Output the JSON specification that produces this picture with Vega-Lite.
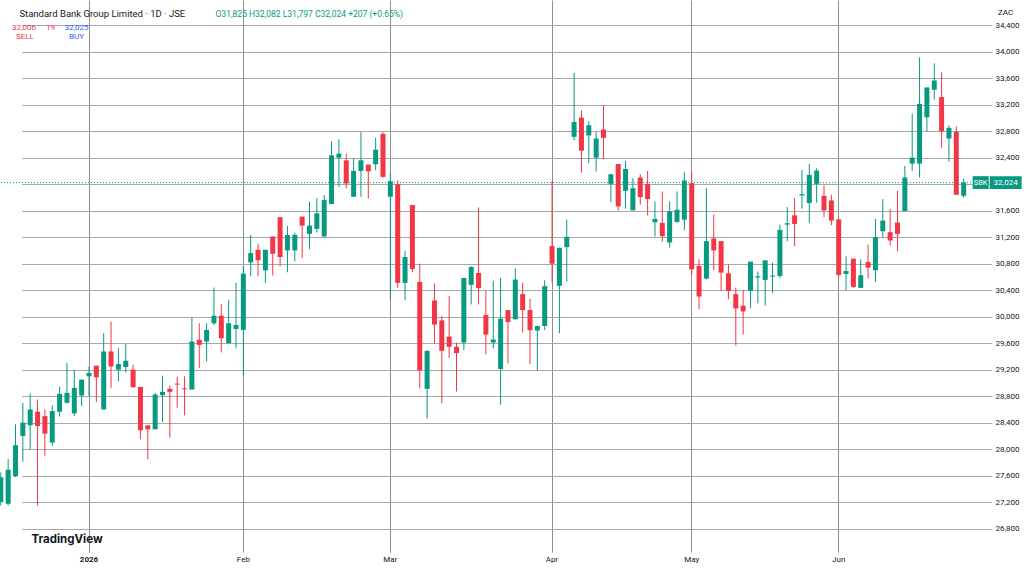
{
  "$schema": "https://vega.github.io/schema/vega-lite/v6.json",
  "width": 989,
  "height": 552,
  "autosize": {"type": "none"},
  "padding": {"left": 0, "top": 0, "right": 35, "bottom": 17},
  "background": "#ffffff",
  "config": {"view": {"stroke": null}, "font": "Roboto"},
  "title": {
    "text": "\u200b\u00a0\u00a0\u00a0\u00a0Standard Bank Group Limited · 1D · JSE",
    "subtitle": ["\u200b\u00a032,006\u00a0\u00a0\u00a0\u00a0\u00a019", "\u200b\u00a0\u00a0\u00a0SELL"],
    "anchor": "start",
    "frame": "group",
    "orient": "top",
    "offset": 0,
    "dx": 10,
    "dy": 41,
    "fontSize": 9.5,
    "fontWeight": "normal",
    "color": "#131722",
    "subtitleFontSize": 8,
    "subtitleColor": "#f23645",
    "subtitlePadding": 6,
    "subtitleLineHeight": 9
  },
  "data": {
    "values": [
      {"d": "2025-12-11", "o": 27200, "h": 27650, "l": 27150, "c": 27575},
      {"d": "2025-12-12", "o": 27175, "h": 27850, "l": 27150, "c": 27690},
      {"d": "2025-12-15", "o": 27590, "h": 28375, "l": 27580, "c": 28060},
      {"d": "2025-12-17", "o": 28200, "h": 28700, "l": 27810, "c": 28400},
      {"d": "2025-12-18", "o": 28360, "h": 28840, "l": 28000, "c": 28600},
      {"d": "2025-12-19", "o": 28565, "h": 28750, "l": 27150, "c": 28350},
      {"d": "2025-12-22", "o": 28500, "h": 28600, "l": 27900, "c": 28235},
      {"d": "2025-12-23", "o": 28100, "h": 28660, "l": 28050, "c": 28575},
      {"d": "2025-12-24", "o": 28565, "h": 28940, "l": 28490, "c": 28835},
      {"d": "2025-12-29", "o": 28700, "h": 29300, "l": 28690, "c": 28850},
      {"d": "2025-12-30", "o": 28540, "h": 29200, "l": 28500, "c": 28925},
      {"d": "2025-12-31", "o": 28810, "h": 29050, "l": 28650, "c": 29050},
      {"d": "2026-01-02", "o": 29100, "h": 29250, "l": 28800, "c": 29150},
      {"d": "2026-01-05", "o": 29260, "h": 29260, "l": 28710, "c": 29085},
      {"d": "2026-01-06", "o": 28600, "h": 29750, "l": 28600, "c": 29475},
      {"d": "2026-01-07", "o": 29475, "h": 29925, "l": 28925, "c": 29250},
      {"d": "2026-01-08", "o": 29200, "h": 29525, "l": 29025, "c": 29285},
      {"d": "2026-01-09", "o": 29240, "h": 29585, "l": 29160, "c": 29335},
      {"d": "2026-01-12", "o": 29200, "h": 29275, "l": 28925, "c": 28935},
      {"d": "2026-01-13", "o": 28940, "h": 28940, "l": 28150, "c": 28285},
      {"d": "2026-01-14", "o": 28360, "h": 28360, "l": 27850, "c": 28300},
      {"d": "2026-01-15", "o": 28300, "h": 28850, "l": 28300, "c": 28825},
      {"d": "2026-01-16", "o": 28815, "h": 29110, "l": 28410, "c": 28865},
      {"d": "2026-01-19", "o": 28910, "h": 28960, "l": 28175, "c": 28865},
      {"d": "2026-01-20", "o": 28990, "h": 29090, "l": 28625, "c": 28975},
      {"d": "2026-01-21", "o": 28920, "h": 29100, "l": 28510, "c": 28905},
      {"d": "2026-01-22", "o": 28900, "h": 29985, "l": 28900, "c": 29625},
      {"d": "2026-01-23", "o": 29650, "h": 29900, "l": 29225, "c": 29575},
      {"d": "2026-01-26", "o": 29625, "h": 29900, "l": 29325, "c": 29800},
      {"d": "2026-01-27", "o": 29900, "h": 30440, "l": 29875, "c": 30015},
      {"d": "2026-01-28", "o": 30015, "h": 30190, "l": 29460, "c": 29675},
      {"d": "2026-01-29", "o": 29600, "h": 30250, "l": 29600, "c": 29900},
      {"d": "2026-01-30", "o": 29815, "h": 30510, "l": 29525, "c": 29875},
      {"d": "2026-02-02", "o": 29800, "h": 30760, "l": 29100, "c": 30650},
      {"d": "2026-02-03", "o": 30820, "h": 31235, "l": 30610, "c": 30960},
      {"d": "2026-02-04", "o": 31010, "h": 31100, "l": 30610, "c": 30850},
      {"d": "2026-02-05", "o": 30700, "h": 31010, "l": 30510, "c": 31010},
      {"d": "2026-02-06", "o": 31210, "h": 31210, "l": 30620, "c": 30950},
      {"d": "2026-02-09", "o": 31500, "h": 31500, "l": 30760, "c": 30900},
      {"d": "2026-02-10", "o": 31000, "h": 31370, "l": 30670, "c": 31235},
      {"d": "2026-02-11", "o": 31000, "h": 31270, "l": 30835, "c": 31235},
      {"d": "2026-02-12", "o": 31510, "h": 31510, "l": 30885, "c": 31375},
      {"d": "2026-02-13", "o": 31250, "h": 31735, "l": 31020, "c": 31375},
      {"d": "2026-02-16", "o": 31325, "h": 31785, "l": 31270, "c": 31560},
      {"d": "2026-02-17", "o": 31210, "h": 31835, "l": 31210, "c": 31760},
      {"d": "2026-02-18", "o": 31700, "h": 32650, "l": 31700, "c": 32435},
      {"d": "2026-02-19", "o": 32400, "h": 32675, "l": 31960, "c": 32460},
      {"d": "2026-02-20", "o": 32360, "h": 32460, "l": 31935, "c": 32010},
      {"d": "2026-02-23", "o": 31810, "h": 32385, "l": 31810, "c": 32200},
      {"d": "2026-02-24", "o": 32200, "h": 32785, "l": 31810, "c": 32360},
      {"d": "2026-02-25", "o": 32295, "h": 32295, "l": 31785, "c": 32195},
      {"d": "2026-02-26", "o": 32300, "h": 32700, "l": 32210, "c": 32520},
      {"d": "2026-02-27", "o": 32760, "h": 32785, "l": 32100, "c": 32110},
      {"d": "2026-03-02", "o": 31810, "h": 32160, "l": 30260, "c": 32045},
      {"d": "2026-03-03", "o": 32000, "h": 32060, "l": 30435, "c": 30510},
      {"d": "2026-03-04", "o": 30510, "h": 30995, "l": 30250, "c": 30900},
      {"d": "2026-03-05", "o": 31685, "h": 31685, "l": 30670, "c": 30720},
      {"d": "2026-03-06", "o": 30525, "h": 30800, "l": 28920, "c": 29190},
      {"d": "2026-03-09", "o": 28910, "h": 29485, "l": 28460, "c": 29485},
      {"d": "2026-03-10", "o": 30245, "h": 30500, "l": 29595, "c": 29880},
      {"d": "2026-03-11", "o": 29945, "h": 30010, "l": 28695, "c": 29485},
      {"d": "2026-03-12", "o": 29700, "h": 30310, "l": 29375, "c": 29545},
      {"d": "2026-03-13", "o": 29545, "h": 29610, "l": 28870, "c": 29450},
      {"d": "2026-03-16", "o": 29610, "h": 30585, "l": 29495, "c": 30585},
      {"d": "2026-03-17", "o": 30480, "h": 30760, "l": 30185, "c": 30750},
      {"d": "2026-03-18", "o": 30660, "h": 31650, "l": 30185, "c": 30430},
      {"d": "2026-03-19", "o": 30025, "h": 30385, "l": 29430, "c": 29730},
      {"d": "2026-03-20", "o": 29610, "h": 30545, "l": 29520, "c": 29655},
      {"d": "2026-03-23", "o": 29210, "h": 30585, "l": 28670, "c": 29970},
      {"d": "2026-03-24", "o": 30100, "h": 30100, "l": 29295, "c": 29920},
      {"d": "2026-03-25", "o": 29960, "h": 30730, "l": 29960, "c": 30560},
      {"d": "2026-03-26", "o": 30340, "h": 30510, "l": 29760, "c": 30100},
      {"d": "2026-03-27", "o": 30100, "h": 30270, "l": 29285, "c": 29795},
      {"d": "2026-03-30", "o": 29790, "h": 29860, "l": 29185, "c": 29860},
      {"d": "2026-03-31", "o": 29860, "h": 30550, "l": 29795, "c": 30460},
      {"d": "2026-04-01", "o": 31065, "h": 32040, "l": 30515, "c": 30800},
      {"d": "2026-04-02", "o": 30465, "h": 31040, "l": 29750, "c": 31040},
      {"d": "2026-04-07", "o": 31050, "h": 31465, "l": 30530, "c": 31205},
      {"d": "2026-04-08", "o": 32715, "h": 33680, "l": 32665, "c": 32940},
      {"d": "2026-04-09", "o": 33005, "h": 33115, "l": 32175, "c": 32505},
      {"d": "2026-04-10", "o": 32735, "h": 32950, "l": 32315, "c": 32890},
      {"d": "2026-04-13", "o": 32400, "h": 32790, "l": 32190, "c": 32690},
      {"d": "2026-04-14", "o": 32825, "h": 33190, "l": 32375, "c": 32700},
      {"d": "2026-04-15", "o": 32005, "h": 32150, "l": 31730, "c": 32150},
      {"d": "2026-04-16", "o": 32305, "h": 32305, "l": 31605, "c": 31665},
      {"d": "2026-04-17", "o": 31900, "h": 32350, "l": 31630, "c": 32230},
      {"d": "2026-04-20", "o": 31605, "h": 32090, "l": 31605, "c": 31940},
      {"d": "2026-04-21", "o": 32100, "h": 32150, "l": 31690, "c": 31805},
      {"d": "2026-04-22", "o": 32005, "h": 32200, "l": 31530, "c": 31775},
      {"d": "2026-04-23", "o": 31425, "h": 31740, "l": 31210, "c": 31475},
      {"d": "2026-04-24", "o": 31415, "h": 31890, "l": 31130, "c": 31215},
      {"d": "2026-04-28", "o": 31120, "h": 31740, "l": 31040, "c": 31590},
      {"d": "2026-04-29", "o": 31430, "h": 31890, "l": 31415, "c": 31615},
      {"d": "2026-04-30", "o": 31465, "h": 32180, "l": 31305, "c": 32055},
      {"d": "2026-05-04", "o": 32015, "h": 32190, "l": 30630, "c": 30715},
      {"d": "2026-05-05", "o": 30765, "h": 30865, "l": 30115, "c": 30305},
      {"d": "2026-05-06", "o": 30575, "h": 31940, "l": 30560, "c": 31140},
      {"d": "2026-05-07", "o": 31180, "h": 31540, "l": 30705, "c": 31000},
      {"d": "2026-05-08", "o": 31140, "h": 31140, "l": 30390, "c": 30665},
      {"d": "2026-05-11", "o": 30655, "h": 30790, "l": 30265, "c": 30390},
      {"d": "2026-05-12", "o": 30340, "h": 30440, "l": 29565, "c": 30125},
      {"d": "2026-05-13", "o": 30165, "h": 30400, "l": 29730, "c": 30080},
      {"d": "2026-05-14", "o": 30390, "h": 30830, "l": 30130, "c": 30830},
      {"d": "2026-05-15", "o": 30590, "h": 30680, "l": 30200, "c": 30610},
      {"d": "2026-05-18", "o": 30555, "h": 30850, "l": 30165, "c": 30850},
      {"d": "2026-05-19", "o": 30605, "h": 30815, "l": 30355, "c": 30620},
      {"d": "2026-05-20", "o": 30615, "h": 31390, "l": 30580, "c": 31310},
      {"d": "2026-05-21", "o": 31390, "h": 31655, "l": 31140, "c": 31410},
      {"d": "2026-05-22", "o": 31530, "h": 31790, "l": 31065, "c": 31400},
      {"d": "2026-05-25", "o": 31830, "h": 32215, "l": 31630, "c": 31850},
      {"d": "2026-05-26", "o": 31715, "h": 32305, "l": 31415, "c": 32140},
      {"d": "2026-05-27", "o": 32005, "h": 32240, "l": 31720, "c": 32205},
      {"d": "2026-05-28", "o": 31825, "h": 31980, "l": 31505, "c": 31605},
      {"d": "2026-05-29", "o": 31755, "h": 31840, "l": 31380, "c": 31450},
      {"d": "2026-06-01", "o": 31470, "h": 31470, "l": 30600, "c": 30630},
      {"d": "2026-06-02", "o": 30645, "h": 30910, "l": 30400, "c": 30690},
      {"d": "2026-06-03", "o": 30875, "h": 30875, "l": 30435, "c": 30450},
      {"d": "2026-06-04", "o": 30435, "h": 30865, "l": 30435, "c": 30625},
      {"d": "2026-06-05", "o": 30825, "h": 31085, "l": 30575, "c": 30740},
      {"d": "2026-06-08", "o": 30700, "h": 31475, "l": 30525, "c": 31200},
      {"d": "2026-06-09", "o": 31290, "h": 31775, "l": 31190, "c": 31450},
      {"d": "2026-06-10", "o": 31275, "h": 31625, "l": 31075, "c": 31150},
      {"d": "2026-06-11", "o": 31420, "h": 31900, "l": 30990, "c": 31250},
      {"d": "2026-06-12", "o": 31595, "h": 32275, "l": 31595, "c": 32100},
      {"d": "2026-06-15", "o": 32310, "h": 33065, "l": 32200, "c": 32400},
      {"d": "2026-06-17", "o": 32310, "h": 33915, "l": 32100, "c": 33210},
      {"d": "2026-06-18", "o": 33010, "h": 33460, "l": 32800, "c": 33460},
      {"d": "2026-06-19", "o": 33425, "h": 33825, "l": 33275, "c": 33565},
      {"d": "2026-06-22", "o": 33315, "h": 33690, "l": 32550, "c": 32800},
      {"d": "2026-06-23", "o": 32690, "h": 32885, "l": 32340, "c": 32850},
      {"d": "2026-06-24", "o": 32790, "h": 32875, "l": 31840, "c": 31840},
      {"d": "2026-06-25", "o": 31825, "h": 32082, "l": 31797, "c": 32024}
    ]
  },
  "resolve": {"axis": {"x": "independent", "y": "independent"}},
  "layer": [
    {
      "mark": {"type": "rule", "strokeWidth": 1},
      "encoding": {
        "x": {
          "field": "d",
          "type": "ordinal",
          "scale": {"type": "band", "range": [-2.875, 967.325], "paddingInner": 0, "paddingOuter": 0},
          "axis": {
            "orient": "top",
            "labels": false,
            "ticks": false,
            "domain": false,
            "grid": false,
            "title": "O31,825 H32,082 L31,797 C32,024 +207 (+0.65%)",
            "titleX": 215,
            "titleY": 13,
            "titleAngle": 0,
            "titleAlign": "left",
            "titleBaseline": "middle",
            "titleFontSize": 8.5,
            "titleFontWeight": "normal",
            "titleColor": "#089981"
          }
        },
        "y": {
          "field": "l",
          "type": "quantitative",
          "scale": {"domain": [26448, 34780], "nice": false, "zero": false},
          "axis": {
            "orient": "left",
            "labels": false,
            "ticks": false,
            "domain": false,
            "grid": false,
            "title": ["32,025", "BUY"],
            "titleX": 76,
            "titleY": 23,
            "titleAngle": 0,
            "titleAlign": "center",
            "titleBaseline": "top",
            "titleFontSize": 8,
            "titleFontWeight": "normal",
            "titleLineHeight": 9,
            "titleColor": "#2962ff"
          }
        },
        "y2": {"field": "h"},
        "color": {"condition": {"test": "datum.c >= datum.o", "value": "#089981"}, "value": "#f23645"}
      }
    },
    {
      "mark": {"type": "bar", "width": 5},
      "encoding": {
        "x": {
          "field": "d",
          "type": "ordinal",
          "scale": {"type": "band", "range": [-2.875, 967.325], "paddingInner": 0, "paddingOuter": 0},
          "axis": {
            "orient": "bottom",
            "values": ["2026-01-02", "2026-02-02", "2026-03-02", "2026-04-01", "2026-05-04", "2026-06-01"],
            "labelExpr": "datum.value == '2026-01-02' ? '2026' : utcFormat(toDate(datum.value), '%b')",
            "labelFontSize": 8,
            "labelColor": "#131722",
            "labelAngle": 0,
            "labelPadding": 3,
            "labelFontWeight": {"condition": {"test": "datum.value == '2026-01-02'", "value": "bold"}, "value": "normal"},
            "bandPosition": 0.5,
            "ticks": false,
            "domain": false,
            "grid": true,
            "gridColor": "#8f8f8f",
            "gridWidth": 1,
            "title": "TradingView",
            "titleX": 31,
            "titleY": -13,
            "titleAlign": "left",
            "titleBaseline": "middle",
            "titleFont": "Inter",
            "titleFontSize": 11.5,
            "titleFontWeight": "bold",
            "titleColor": "#131722"
          }
        },
        "y": {
          "field": "o",
          "type": "quantitative",
          "scale": {"domain": [26448, 34780], "nice": false, "zero": false},
          "axis": {
            "orient": "right",
            "values": [26800, 27200, 27600, 28000, 28400, 28800, 29200, 29600, 30000, 30400, 30800, 31200, 31600, 32000, 32400, 32800, 33200, 33600, 34000, 34400],
            "format": ",.0f",
            "labelExpr": "datum.value == 32000 ? '' : datum.label",
            "labelFontSize": 8,
            "labelColor": "#131722",
            "labelPadding": 6,
            "ticks": false,
            "domain": false,
            "grid": true,
            "gridColor": "#a8a8a8",
            "gridWidth": 1,
            "title": "ZAC",
            "titleX": 16,
            "titleY": 12,
            "titleAngle": 0,
            "titleAlign": "center",
            "titleBaseline": "middle",
            "titleFontSize": 8,
            "titleFontWeight": "normal",
            "titleColor": "#131722"
          }
        },
        "y2": {"field": "c"},
        "color": {"condition": {"test": "datum.c >= datum.o", "value": "#089981"}, "value": "#f23645"}
      }
    },
    {
      "data": {"values": [{}]},
      "mark": {"type": "rule", "color": "#089981", "strokeDash": [1, 2], "strokeWidth": 1},
      "encoding": {
        "y": {"datum": 32024, "type": "quantitative", "scale": {"domain": [26448, 34780], "nice": false, "zero": false}, "axis": null}
      }
    },
    {
      "data": {"values": [{}]},
      "mark": {"type": "point", "shape": "M-1,-0.8H1V0.8H-1Z", "size": 256, "filled": true, "color": "#089981", "opacity": 1, "strokeWidth": 0, "xOffset": 17},
      "encoding": {
        "x": {"datum": "2026-06-25", "type": "ordinal", "axis": null},
        "y": {"datum": 32024, "type": "quantitative", "axis": null}
      }
    },
    {
      "data": {"values": [{}]},
      "mark": {"type": "point", "shape": "M-1,-0.4H1V0.4H-1Z", "size": 1024, "filled": true, "color": "#089981", "opacity": 1, "strokeWidth": 0, "xOffset": 42},
      "encoding": {
        "x": {"datum": "2026-06-25", "type": "ordinal", "axis": null},
        "y": {"datum": 32024, "type": "quantitative", "axis": null}
      }
    },
    {
      "data": {"values": [{}]},
      "mark": {"type": "text", "text": "SBK", "color": "#ffffff", "fontSize": 7.5, "align": "center", "baseline": "middle", "dx": 17},
      "encoding": {
        "x": {"datum": "2026-06-25", "type": "ordinal", "axis": null},
        "y": {"datum": 32024, "type": "quantitative", "axis": null}
      }
    },
    {
      "data": {"values": [{}]},
      "mark": {"type": "text", "text": "32,024", "color": "#ffffff", "fontSize": 8, "align": "center", "baseline": "middle", "dx": 42},
      "encoding": {
        "x": {"datum": "2026-06-25", "type": "ordinal", "axis": null},
        "y": {"datum": 32024, "type": "quantitative", "axis": null}
      }
    }
  ]
}
